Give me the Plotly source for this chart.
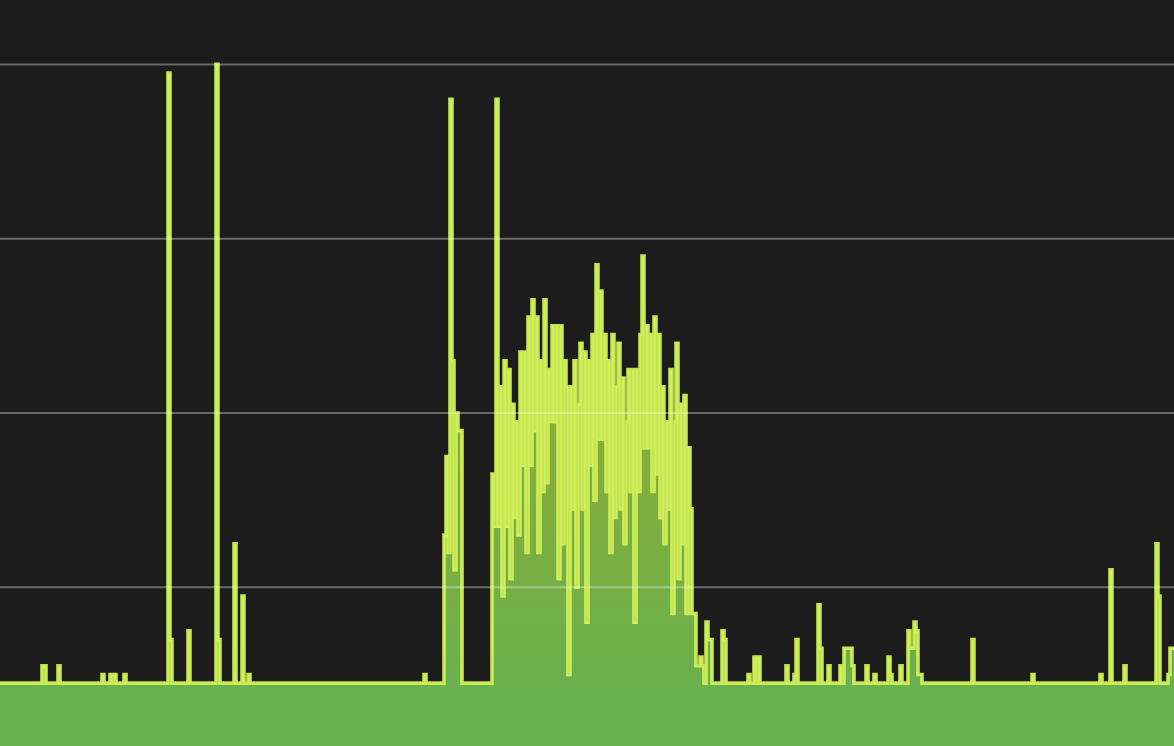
import plotly.graph_objects as go

# ---- data ----
n_samples = 588
base_level = 9

left_idx = [21, 22, 29, 51, 55, 57, 62, 84, 85, 94, 108, 109, 117, 121, 124, 212]
left_val = [11, 11, 11, 10, 10, 10, 10, 79, 14, 15, 80, 14, 25, 19, 10, 10]

cluster_start = 222
cluster_values = [26, 35, 24, 76, 46, 22, 40, 38, 38]

burst_start = 245
burst_values = [
    9, 33, 27, 76, 27, 43, 19, 46, 27, 45, 21, 41, 28, 39, 26, 47, 34, 47, 24, 51,
    34, 53, 38, 51, 24, 46, 31, 53, 32, 45, 39, 50, 39, 50, 21, 50, 25, 46, 43, 10,
    43, 29, 46, 20, 41, 48, 29, 47, 16, 46, 34, 49, 30, 57, 37, 54, 37, 49, 31, 46,
    24, 49, 28, 43, 48, 29, 44, 25, 39, 45, 31, 45, 16, 45, 31, 49, 58, 36, 50, 36,
    49, 31, 51, 33, 49, 28, 43, 25, 39, 29, 45, 17, 39, 48, 21, 41, 25, 42, 17, 36,
    29, 17, 17, 11, 11, 12, 11, 9, 16, 14, 14,
]

right_idx = [361, 362, 374, 377, 379, 393, 397, 398, 409, 410, 414, 420, 422, 423, 424,
             425, 426, 433, 437, 444, 445, 450, 454, 455, 456, 457, 458, 459, 460, 486,
             516, 550, 555, 562, 578, 579, 584, 585, 586, 587]
right_val = [15, 14, 10, 12, 12, 11, 10, 14, 18, 13, 11, 11, 13, 13, 13,
             13, 11, 11, 10, 12, 10, 11, 15, 13, 13, 16, 15, 10, 10, 14,
             10, 10, 22, 11, 25, 19, 10, 13, 13, 13]

grid_values = [20, 40, 60, 80]

# ---- assemble series ----
series = [base_level] * n_samples
for i, v in zip(left_idx, left_val):
    series[i] = v
for k, v in enumerate(cluster_values):
    series[cluster_start + k] = v
for k, v in enumerate(burst_values):
    series[burst_start + k] = v
for i, v in zip(right_idx, right_val):
    series[i] = v
xs = list(range(n_samples))

fig = go.Figure()
fig.add_trace(go.Scatter(
    x=xs, y=series, mode="lines",
    line=dict(shape="hv", width=3.6, color="rgba(214,245,90,0.92)"),
    fill="tozeroy",
    fillgradient=dict(type="vertical",
                      colorscale=[[0, "#6ab04c"], [1, "#8fac35"]],
                      start=9, stop=45),
    hoverinfo="skip",
    showlegend=False,
))

for g in grid_values:
    fig.add_shape(type="line", xref="paper", yref="y", x0=0, x1=1, y0=g, y1=g,
                  layer="above", line=dict(color="rgba(255,255,255,0.34)", width=2))

fig.update_layout(
    width=1174, height=746,
    margin=dict(l=0, r=0, t=0, b=0),
    paper_bgcolor="#1c1c1c", plot_bgcolor="#1c1c1c",
    xaxis=dict(range=[0, n_samples - 1], showgrid=False, zeroline=False,
               showticklabels=False, showline=False, fixedrange=True),
    yaxis=dict(range=[1.79, 87.39], showgrid=False, zeroline=False,
               showticklabels=False, showline=False, fixedrange=True),
    showlegend=False,
)

fig.write_html(
    "out.html",
    config={"displayModeBar": False},
    post_script="document.body.style.margin='0';document.body.style.overflow='hidden';"
                "document.body.style.background='#1c1c1c';",
)
